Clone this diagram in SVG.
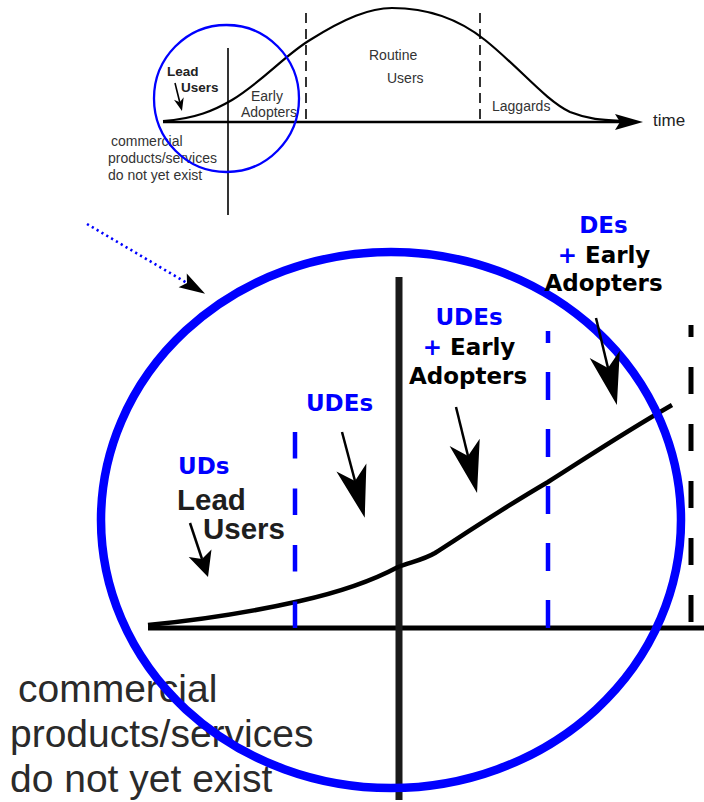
<svg xmlns="http://www.w3.org/2000/svg" width="704" height="802" viewBox="0 0 704 802">
<style>
.sans{font-family:"Liberation Sans",Arial,sans-serif}
.small{font-size:14px;fill:#333}
.bold{font-family:"DejaVu Sans",sans-serif;font-weight:bold;font-size:23px}
.blue{fill:#0000ff}
.blk{fill:#000}
.line{fill:none;stroke:#000}
.shaft{fill:none;stroke:#000;stroke-width:2.5}
</style>
<defs>
<marker id="headL" markerUnits="userSpaceOnUse" orient="auto" viewBox="-20 -20 64 40" markerWidth="64" markerHeight="40" refX="0" refY="0">
<path d="M38,0 L-14,-15.5 L0,0 L-14,15.5 Z" fill="#000"/>
</marker>
<marker id="headS" markerUnits="userSpaceOnUse" orient="auto" viewBox="-10 -15 34 30" markerWidth="34" markerHeight="30" refX="0" refY="0">
<path d="M19,0 L-6,-12 L0,0 L-6,12 Z" fill="#000"/>
</marker>
<marker id="headT" markerUnits="userSpaceOnUse" orient="auto" viewBox="-6 -7 18 14" markerWidth="18" markerHeight="14" refX="0" refY="0">
<path d="M9,0 L-4,-5 L0,0 L-4,5 Z" fill="#000"/>
</marker>
<marker id="headD" markerUnits="userSpaceOnUse" orient="auto" viewBox="-8 -10 32 20" markerWidth="32" markerHeight="20" refX="0" refY="0">
<path d="M21,0 L-5,-8 L0,0 L-5,8 Z" fill="#000"/>
</marker>
</defs>
<rect width="704" height="802" fill="#fff"/>

<!-- Top adoption curve -->
<g id="top-chart">
<path class="line" stroke-width="2.2" d="M163,121 C195,119 215,110 232,100 C262,82 285,55 310,40 C345,18 370,8 392,8 C430,8 460,20 485,40 C520,68 545,100 570,112 C590,120 605,120 625,121"/>
<line class="line" stroke-width="2.6" x1="163" y1="122" x2="622" y2="122"/>
<path d="M643,122 L615,114 L620,122 L615,130 Z" fill="#000"/>
<line class="line" stroke-width="1.6" x1="228" y1="48" x2="228" y2="215"/>
<line class="line" stroke-width="1.6" stroke-dasharray="10 6" x1="306" y1="13" x2="306" y2="121"/>
<line class="line" stroke-width="1.6" stroke-dasharray="10 6" x1="480" y1="13" x2="480" y2="125"/>
<text class="sans" x="653" y="126" font-size="17" fill="#222">time</text>
<text class="sans small" x="369" y="60">Routine</text>
<text class="sans small" x="387" y="83">Users</text>
<text class="sans small" x="492" y="111">Laggards</text>
<text class="sans small" x="251" y="101">Early</text>
<text class="sans small" x="241" y="117">Adopters</text>
<text class="sans" x="167" y="76" font-size="13.5" font-weight="bold" fill="#222">Lead</text>
<text class="sans" x="181" y="92" font-size="13.5" font-weight="bold" fill="#222">Users</text>
<text class="sans small" x="111" y="146">commercial</text>
<text class="sans small" x="108" y="163">products/services</text>
<text class="sans small" x="108" y="180">do not yet exist</text>
</g>

<g id="top-circle">
<ellipse cx="226.5" cy="98.5" rx="72.5" ry="73.5" fill="none" stroke="#0000ff" stroke-width="2.3"/>
</g>

<!-- Enlarged chart -->
<g id="big-chart">
<text class="sans" x="18" y="702" font-size="39" fill="#2a2a2a">commercial</text>
<text class="sans" x="10" y="747" font-size="39" fill="#2a2a2a">products/services</text>
<text class="sans" x="10" y="792" font-size="39" fill="#2a2a2a">do not yet exist</text>
<line class="line" stroke-width="5" x1="148" y1="628" x2="704" y2="628"/>
<line x1="399" y1="277" x2="399" y2="800" stroke="#1a1a1a" stroke-width="7"/>
<path class="line" stroke-width="4.5" d="M148,625 C200,620 260,610 300,601 C340,592 370,582 398,567 C415,561 425,559 435,553 C460,537 500,510 548,482 C580,462 615,438 672,405"/>
<line stroke="#0000ff" stroke-width="4.5" stroke-dasharray="26.5 30" x1="295" y1="628" x2="295" y2="431"/>
<line stroke="#0000ff" stroke-width="4.5" stroke-dasharray="28 29" x1="548" y1="628" x2="548" y2="331"/>
<line stroke="#000" stroke-width="5" stroke-dasharray="27 30" x1="691" y1="622" x2="691" y2="325"/>
<text class="sans" x="177" y="510" font-size="29.5" font-weight="bold" fill="#1e1e1e">Lead</text>
<text class="sans" x="203" y="539" font-size="29.5" font-weight="bold" fill="#1e1e1e">Users</text>
</g>

<g id="big-circle">
<ellipse cx="391" cy="520" rx="290" ry="268" fill="none" stroke="#0000ff" stroke-width="8.5"/>
</g>

<g id="label-uds">
<text class="bold blue" x="178" y="474">UDs</text>
</g>
<g id="label-udes">
<text class="bold blue" x="339.5" y="411" text-anchor="middle">UDEs</text>
</g>
<g id="label-udes-early">
<text class="bold blue" x="469" y="325" text-anchor="middle">UDEs</text>
<text class="bold" x="469" y="355" text-anchor="middle"><tspan class="blue">+</tspan><tspan class="blk"> Early</tspan></text>
<text class="bold blk" x="468" y="384" text-anchor="middle">Adopters</text>
</g>
<g id="label-des-early">
<text class="bold blue" x="603.5" y="233" text-anchor="middle">DEs</text>
<text class="bold" x="604" y="263" text-anchor="middle"><tspan class="blue">+</tspan><tspan class="blk"> Early</tspan></text>
<text class="bold blk" x="603.5" y="291" text-anchor="middle">Adopters</text>
</g>

<g id="connectors">
<line stroke="#0000ff" stroke-width="2.6" stroke-dasharray="2.2 3.4" x1="87" y1="224" x2="187" y2="283" marker-end="url(#headD)"/>
<line stroke="#000" stroke-width="1.6" x1="175" y1="83" x2="179.8" y2="102.3" marker-end="url(#headT)"/>
<line class="shaft" stroke-width="2.2" x1="190" y1="523" x2="202" y2="559" marker-end="url(#headS)"/>
<line class="shaft" x1="342" y1="432" x2="355" y2="481" marker-end="url(#headL)"/>
<line class="shaft" x1="456" y1="407" x2="468" y2="456" marker-end="url(#headL)"/>
<line class="shaft" x1="596" y1="318" x2="608" y2="368" marker-end="url(#headL)"/>
</g>
</svg>
